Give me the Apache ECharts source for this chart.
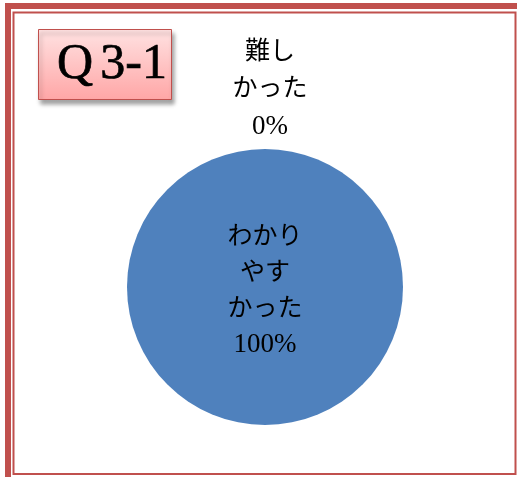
<!DOCTYPE html>
<html><head><meta charset="utf-8">
<script src="https://cdn.jsdelivr.net/npm/echarts@6/dist/echarts.min.js"></script>
<style>html,body{margin:0;padding:0;background:#fff}#c{width:517px;height:477px}</style>
</head><body><div id="c"></div>
<script>
const categories = ['わかり\nやす\nかった', '難し\nかった'];
const values = [100, 0];
const percentLabels = ['100%', '0%'];
const titleParts = ['Q', '3-1'];

const chart = echarts.init(document.getElementById('c'));
const red = '#C0504D';
const font = '"Liberation Serif", "Noto Sans CJK JP", serif';
function labelRich(lh) {
  return {
    t: { fontFamily: font, fontSize: 25, lineHeight: lh, color: '#000' },
    n: { fontFamily: '"Liberation Serif", serif', fontSize: 27, lineHeight: lh, color: '#000' }
  };
}
function fmt(i) {
  return categories[i].split('\n').map(s => '{t|' + s + '}').join('\n') + '\n{n|' + percentLabels[i] + '}';
}
chart.setOption({
  animation: false,
  backgroundColor: '#fff',
  graphic: [
    { type: 'rect', z: 1, shape: { x: 5, y: 3, width: 512, height: 6 }, style: { fill: red } },
    { type: 'rect', z: 1, shape: { x: 5, y: 3, width: 6, height: 474 }, style: { fill: red } },
    { type: 'rect', z: 1, shape: { x: 13.5, y: 12.5, width: 502, height: 461.5 }, style: { fill: 'none', stroke: red, lineWidth: 2 } },
    { type: 'rect', z: 10, shape: { x: 38.5, y: 29.5, width: 133, height: 70 },
      style: { fill: new echarts.graphic.LinearGradient(0, 0, 0, 1, [{ offset: 0, color: '#FFE2E2' }, { offset: 1, color: '#FFA6A6' }]),
               stroke: red, lineWidth: 1, shadowBlur: 4, shadowOffsetX: 2, shadowOffsetY: 4, shadowColor: 'rgba(0,0,0,0.35)' } }
  ],
  title: {
    text: '{q|' + titleParts[0] + '}{r|' + titleParts[1] + '}', left: 107, top: 35, textAlign: 'center', z: 11,
    textStyle: {
      fontWeight: 'normal',
      rich: {
        q: { fontFamily: '"Liberation Serif", serif', fontWeight: 'normal', fontSize: 50, color: '#000', padding: [0, 7, 0, 0], textBorderColor: '#000', textBorderWidth: 0.7 },
        r: { fontFamily: '"Liberation Serif", serif', fontWeight: 'normal', fontSize: 50, color: '#000', textBorderColor: '#000', textBorderWidth: 0.7 }
      }
    }
  },
  series: [{
    type: 'pie',
    center: [265, 287],
    radius: 138,
    startAngle: 90,
    clockwise: true,
    itemStyle: { borderWidth: 0 },
    emphasis: { disabled: true },
    labelLine: { show: false, length: 4, length2: 0 },
    data: categories.map((c, i) => ({
      name: c,
      value: values[i],
      itemStyle: { color: i === 0 ? '#4F81BD' : '#C0504D' },
      label: i === 0
        ? { position: 'center', formatter: fmt(i), rich: labelRich(36), offset: [0, 4] }
        : { position: 'outside', distance: 0, formatter: fmt(i), rich: labelRich(37) }
    })),
    labelLayout: function (p) {
      if (p.dataIndex === 1) return { align: 'center', verticalAlign: 'bottom' };
      return {};
    }
  }]
});
</script></body></html>
